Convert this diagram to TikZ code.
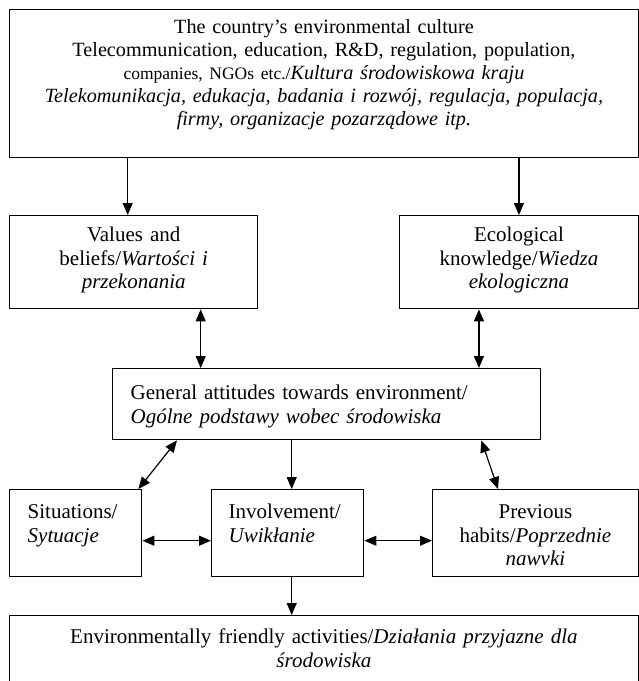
\documentclass[tikz,border=0pt]{standalone}
\usepackage{fontspec}
\setmainfont{Liberation Serif}
\usetikzlibrary{arrows.meta}

\tikzset{
  box/.style={draw, line width=1.4pt, inner sep=0pt, anchor=north west, align=center,
    font=\fontsize{21pt}{23.5pt}\selectfont},
}

\begin{document}
\begin{tikzpicture}[>={Triangle[length=12pt,width=10pt]}, line width=1.2pt]
  \useasboundingbox (0pt, 0pt) rectangle (639pt, -681pt);
  \draw (9.0pt, -9.0pt)node[box, font=\fontsize{20.2pt}{23pt}\selectfont, text width=628.5pt, text height=24pt, text depth=124pt](culture){The country’s environmental culture\\
    Telecommunication, education, R\&D, regulation, population,\\
    {\fontsize{17.5pt}{23pt}\selectfont companies, NGOs etc./}\textit{Kultura środowiskowa kraju}\\
    \textit{Telekomunikacja, edukacja, badania i rozwój, regulacja, populacja,}\\
    \textit{firmy, organizacje pozarządowe itp.}};
  \draw (9.0pt, -215.0pt)node[box, text width=248pt, text height=26pt, text depth=67pt](values){Values and\\ beliefs/\textit{Wartości i}\\ \textit{przekonania}};
  \draw (399.0pt, -215.0pt)node[box, text width=238.5pt, text height=26pt, text depth=67pt](ecology){Ecological\\ knowledge/\textit{Wiedza}\\ \textit{ekologiczna}};
  \draw (112.0pt, -368.0pt)node[box, align=left, inner xsep=18pt, text width=392pt, text height=31pt, text depth=40pt](general){General attitudes towards environment/\\ \textit{Ogólne podstawy wobec środowiska}};
  \draw (9.0pt, -489.0pt)node[box, align=left, inner xsep=18pt, text width=96pt, text height=29pt, text depth=58pt](situations){Situations/\\ \textit{Sytuacje}};
  \draw (211.0pt, -489.0pt)node[box, align=left, inner xsep=17pt, text width=118pt, text height=29pt, text depth=58pt](involvement){Involvement/\\ \textit{Uwikłanie}};
  \draw (432.0pt, -489.0pt)node[box, text width=205.5pt, text height=29pt, text depth=58pt](habits){Previous\\ habits/\textit{Poprzednie}\\ \textit{nawvki}};
  \draw (9.0pt, -615.0pt)node[box, text width=628.5pt, text height=28pt, text depth=80pt](activities){Environmentally friendly activities/\textit{Działania przyjazne dla}\\ \textit{środowiska}};
  \path[->] ([xshift=-6pt]values.north |- culture.south) edge ([xshift=-6pt]values.north);
  \path[->] (ecology.north |- culture.south) edge (ecology.north);
  \path[<->] ([xshift=67pt]values.south) edge ([xshift=67pt]values.south |- general.north);
  \path[<->] ([xshift=-40pt]ecology.south) edge ([xshift=-40pt]ecology.south |- general.north);
  \path[<->] ([xshift=65pt]general.south west) edge ([xshift=-4pt]situations.north east);
  \path[->] ([xshift=4pt]involvement.north |- general.south) edge ([xshift=4pt]involvement.north);
  \path[<->] ([xshift=-60pt]general.south east) edge ([xshift=66pt]habits.north west);
  \path[<->] ([yshift=-7.5pt]situations.east) edge ([yshift=-7.5pt]situations.east -| involvement.west);
  \path[<->] ([yshift=-7.5pt]involvement.east) edge ([yshift=-7.5pt]involvement.east -| habits.west);
  \path[->] ([xshift=4pt]involvement.south) edge ([xshift=4pt]involvement.south |- activities.north);
\end{tikzpicture}
\end{document}
